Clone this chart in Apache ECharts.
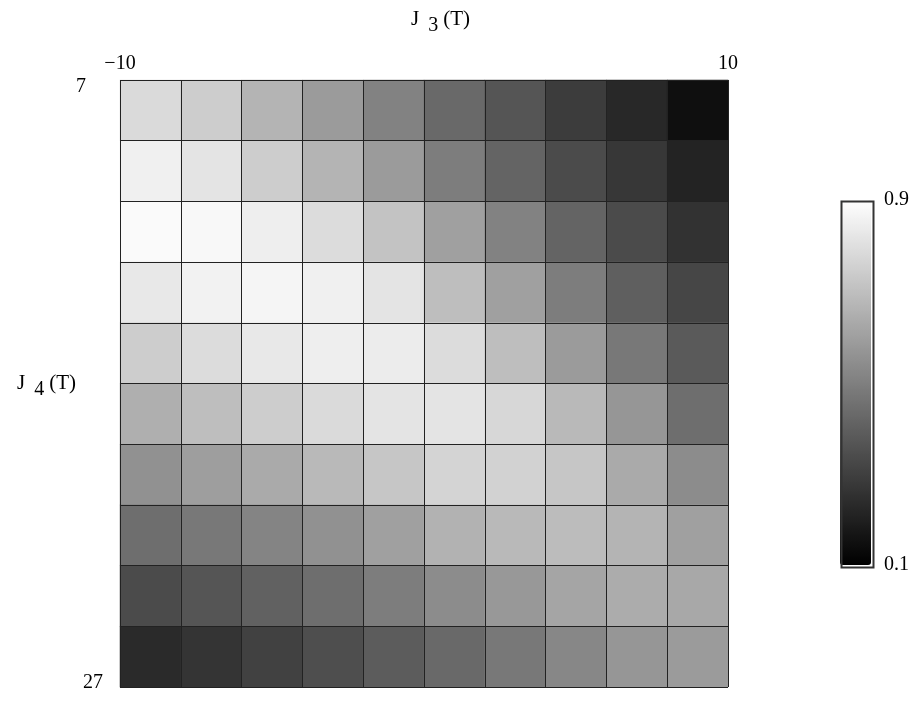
<!DOCTYPE html>
<html>
<head>
<meta charset="utf-8">
<script src="https://cdn.jsdelivr.net/npm/echarts@6/dist/echarts.min.js"></script>
<style>
  html, body { margin: 0; padding: 0; background: #fff; }
  #chart { width: 921px; height: 703px; }
</style>
</head>
<body>
<div id="chart"></div>
<script>
// cell centres of the 10x10 map
const j3Cells = [-9, -7, -5, -3, -1, 1, 3, 5, 7, 9];
const j4Cells = [8, 10, 12, 14, 16, 18, 20, 22, 24, 26];

// tick labels
const j3Ticks = [-10, 10];
const j4Ticks = [7, 27];
const colorTicks = [0.9, 0.1];

// read per cell, top row (J4 = 7) first
const intensity = [
  [0.784, 0.743, 0.665, 0.586, 0.508, 0.429, 0.367, 0.288, 0.225, 0.147],
  [0.853, 0.815, 0.743, 0.665, 0.586, 0.492, 0.414, 0.335, 0.273, 0.210],
  [0.884, 0.878, 0.847, 0.790, 0.712, 0.602, 0.508, 0.414, 0.335, 0.257],
  [0.828, 0.859, 0.869, 0.853, 0.815, 0.696, 0.602, 0.492, 0.398, 0.320],
  [0.743, 0.790, 0.828, 0.847, 0.840, 0.790, 0.696, 0.586, 0.476, 0.382],
  [0.649, 0.696, 0.743, 0.784, 0.815, 0.815, 0.774, 0.680, 0.571, 0.445],
  [0.555, 0.596, 0.633, 0.680, 0.721, 0.765, 0.759, 0.721, 0.633, 0.539],
  [0.445, 0.476, 0.514, 0.555, 0.602, 0.658, 0.680, 0.690, 0.665, 0.602],
  [0.335, 0.367, 0.404, 0.445, 0.492, 0.539, 0.577, 0.618, 0.640, 0.627],
  [0.232, 0.263, 0.304, 0.345, 0.389, 0.429, 0.476, 0.524, 0.571, 0.586]
];

const heatData = [];
intensity.forEach((row, r) => {
  row.forEach((v, c) => heatData.push([c, r, v]));
});

const serif = 'Liberation Serif';
const lineCol = '#222';

const chart = echarts.init(document.getElementById('chart'));

// "J", subscript, "(T)" — subscript sits lower than the rest
const labelRich = {
  j: { fontFamily: serif, fontSize: 21, fontWeight: 'normal', color: '#000', verticalAlign: 'bottom', padding: [0, 0, 6, 0] },
  s: { fontFamily: serif, fontSize: 20, fontWeight: 'normal', color: '#000', verticalAlign: 'bottom', padding: [0, 5, 0, 4] }
};

chart.setOption({
  backgroundColor: '#fff',
  animation: false,
  title: [
    {
      text: '{j|J} {s|3}{j|(T)}',
      left: 406,
      top: 4,
      textStyle: { rich: labelRich }
    },
    {
      text: '{j|J} {s|4}{j|(T)}',
      left: 12,
      top: 368,
      textStyle: { rich: labelRich }
    }
  ],
  grid: { left: 120, top: 80, width: 608, height: 607 },
  xAxis: [
    {
      type: 'category',
      data: j3Cells,
      position: 'bottom',
      z: 5,
      axisLine: { show: false },
      axisTick: { show: false },
      axisLabel: { show: false },
      splitLine: { show: true, lineStyle: { color: lineCol, width: 1 } }
    },
    {
      type: 'value',
      min: -10,
      max: 10,
      position: 'top',
      axisLine: { show: false },
      axisTick: { show: false },
      splitLine: { show: false },
      axisLabel: {
        customValues: j3Ticks,
        margin: 6,
        fontFamily: serif,
        fontSize: 20,
        color: '#000',
        formatter: v => (v < 0 ? '\u2212' + Math.abs(v) : String(v))
      }
    }
  ],
  yAxis: [
    {
      type: 'category',
      data: j4Cells,
      inverse: true,
      position: 'right',
      z: 5,
      axisLine: { show: false },
      axisTick: { show: false },
      axisLabel: { show: false },
      splitLine: { show: true, lineStyle: { color: lineCol, width: 1 } }
    },
    {
      type: 'value',
      min: 7,
      max: 27,
      inverse: true,
      position: 'left',
      axisLine: { show: false },
      axisTick: { show: false },
      splitLine: { show: false },
      axisLabel: {
        customValues: j4Ticks,
        margin: 17,
        formatter: v => (v === j4Ticks[0] ? '{a|' + v + '}' : '{b|' + v + '}'),
        rich: {
          a: { fontFamily: serif, fontSize: 20, color: '#000', padding: [14, 17, 0, 0] },
          b: { fontFamily: serif, fontSize: 20, color: '#000', padding: [0, 0, 8, 0] }
        }
      }
    }
  ],
  visualMap: {
    type: 'continuous',
    min: 0.1,
    max: 0.9,
    orient: 'vertical',
    left: 840,
    top: 200,
    itemWidth: 31,
    itemHeight: 365,
    padding: 0,
    text: null,
    calculable: false,
    hoverLink: false,
    inRange: { color: ['#000000', '#ffffff'] },
    seriesIndex: 0
  },
  graphic: [
    {
      type: 'rect',
      left: 839,
      top: 199,
      shape: { width: 32, height: 366 },
      style: { fill: null, stroke: '#333', lineWidth: 2 },
      z: 100
    },
    {
      type: 'text',
      left: 884,
      top: 190,
      style: { text: String(colorTicks[0]), font: '20px "Liberation Serif"', fill: '#000' }
    },
    {
      type: 'text',
      left: 884,
      top: 555,
      style: { text: String(colorTicks[1]), font: '20px "Liberation Serif"', fill: '#000' }
    }
  ],
  series: [
    {
      type: 'heatmap',
      xAxisIndex: 0,
      yAxisIndex: 0,
      data: heatData,
      itemStyle: { borderWidth: 0 },
      emphasis: { disabled: true }
    }
  ]
});
</script>
</body>
</html>
